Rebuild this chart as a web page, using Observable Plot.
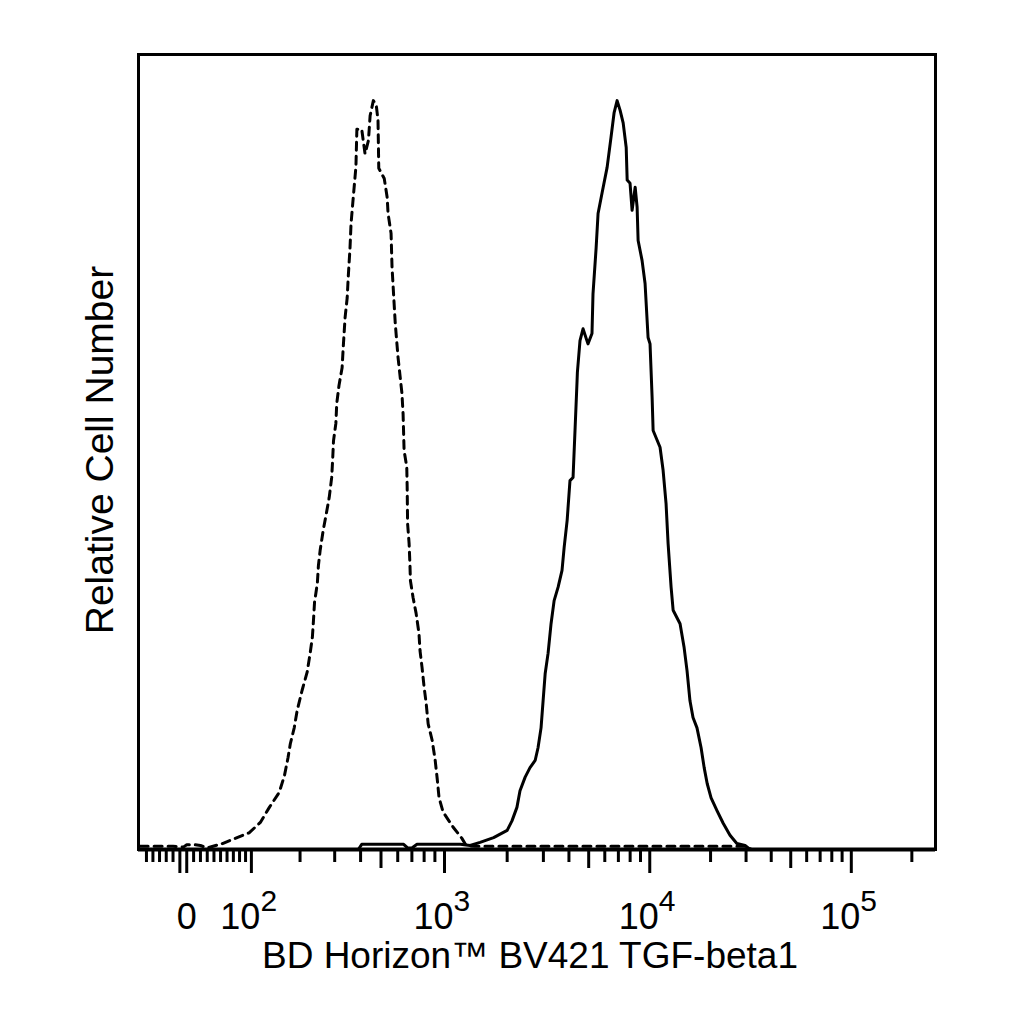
<!DOCTYPE html>
<html><head><meta charset="utf-8">
<script src="https://cdn.jsdelivr.net/npm/d3@7"></script>
<script src="https://cdn.jsdelivr.net/npm/@observablehq/plot@0.6"></script>
<style>body{margin:0;background:#fff}</style>
</head><body><div id="chart"></div>
<script>
// Biexponential (logicle) display parameters
const T = 262144, M = 3.965, W = 0.24;

// Isotype control (dashed)
const isoValues = [-70,-45,-20,-5,0,12,20,30,53,76,96,116,133,153,164,172,177,186,193,205,218,226,232,235,238,246,249,254,263,273,282,290,293,296,304,307,315,326,330,337,345,349,356,360,367,374,380,384,405,420,436,444,460,475,484,488,518,535,540,558,564,571,584,602,628,636,643,662,665,668,679,685,689,709,733,756,765,782,800,818,836,874,903,923,942,985,1100,1211,1270,1400,5000,30000,32000,262144];
const isoCounts = [0.4,0.4,0.4,0.3,0.6,0.6,0.5,0.2,0.75,1.5,2.1,3.4,5.3,7.2,9.3,11.6,13.3,15.3,17.5,20.0,22.3,24.7,26.7,28.8,31.1,33.5,35.7,37.6,40.1,42.3,44.3,46.8,48.9,51.4,53.6,56.1,58.4,60.6,63.1,66.9,69.4,72.0,75.7,78.7,81.3,83.8,85.9,90.6,90.6,87.5,89.2,92.3,94.2,93.6,91.7,85.7,84.4,82.0,80.0,77.5,73.2,70.7,66.2,61.9,57.4,54.8,50.2,48.1,45.5,41.0,38.5,36.0,33.8,31.7,29.7,27.2,25.0,22.9,20.4,18.4,15.8,13.7,11.2,8.9,6.5,4.7,2.8,1.4,0.5,0.4,0.4,0.4,0,0];

// BV421 TGF-beta1 (solid)
const tgfValues = [-70,390,405,640,668,700,740,1190,1325,1480,1720,2000,2110,2230,2308,2445,2582,2735,2825,2922,2990,3060,3163,3270,3385,3540,3700,3790,3920,4047,4190,4290,4385,4400,4532,4690,4960,5190,5250,5440,5560,5820,6160,6440,6670,6900,7134,7390,7650,7735,7992,8180,8470,8660,8760,9160,9480,9810,10031,10270,10390,11241,11640,12040,12320,12750,13050,14122,14790,15290,15812,16370,17130,17950,18590,19240,20120,21520,23100,24970,27000,29670,31410,262144];
const tgfCounts = [0,0,0.65,0.65,0.2,0.2,0.65,0.65,0.5,0.9,1.5,2.4,3.6,5.3,7.4,9.1,10.3,11.2,12.8,15.3,18.7,22.1,24.7,28.4,31.3,33.0,35.1,38.0,41.4,46.4,46.8,53.1,59.0,60.0,64.0,65.5,63.6,64.9,69.9,75.7,80.0,82.6,85.8,89.6,92.7,94.2,93.0,91.4,88.3,84.2,83.8,80.4,83.3,80.8,76.6,74.1,71.2,64.4,63.6,56.9,52.7,50.6,47.7,43.5,38.5,33.0,30.1,28.4,25.4,22.5,18.7,16.6,15.3,12.8,10.3,8.3,6.5,4.9,3.3,1.8,0.75,0.5,0,0];

// Axis ticks
const longTicks = [-10, 0, 100, 1000, 10000, 100000];
const midTicks = [500, 5000, 50000];
const minorTicks = [-60,-50,-40,-30,-20,10,20,30,40,50,60,70,80,90,200,300,400,600,700,800,900,2000,3000,4000,6000,7000,8000,9000,20000,30000,40000,60000,70000,80000,90000,200000];
const labelValues = [0, 100, 1000, 10000, 100000];
const labelBases = ["0", "10", "10", "10", "10"];
const labelExps = ["", "2", "3", "4", "5"];

const xTitle = "BD Horizon\u2122 BV421 TGF-beta1";
const yTitle = "Relative Cell Number";

// logicle transform
function solveP(w) {
  let lo = 1, hi = 100;
  for (let i = 0; i < 100; i++) {
    const mid = (lo + hi) / 2;
    const f = 2 * mid * Math.log10(mid) / (mid + 1);
    if (f < w) lo = mid; else hi = mid;
  }
  return (lo + hi) / 2;
}
const P = solveP(W);
const A0 = T * Math.pow(10, -(M - W));
function S(x) {
  if (x >= W) return A0 * (Math.pow(10, x - W) - P * P * Math.pow(10, -(x - W) / P) + P * P - 1);
  return -S(2 * W - x);
}
function lg(v) {
  let lo = -1, hi = M + 1;
  for (let i = 0; i < 70; i++) {
    const mid = (lo + hi) / 2;
    if (S(mid) < v) lo = mid; else hi = mid;
  }
  return (lo + hi) / 2;
}

const iso = isoValues.map((v, i) => ({v, c: isoCounts[i]}));
const tgf = tgfValues.map((v, i) => ({v, c: tgfCounts[i]}));
const labels = labelValues.map((v, i) => ({v, base: labelBases[i], exp: labelExps[i]}));
const font = "Liberation Sans, Arial, Helvetica, sans-serif";

const chart = Plot.plot({
  width: 1024, height: 1024,
  marginLeft: 138, marginRight: 89, marginTop: 54, marginBottom: 175,
  x: {domain: [0, M], axis: null},
  y: {domain: [0, 100], axis: null},
  style: {fontFamily: font, background: "white", color: "black"},
  marks: [
    Plot.axisX({ticks: minorTicks.map(lg), tickSize: 13, tickFormat: () => "", strokeWidth: 3, label: null}),
    Plot.axisX({ticks: midTicks.map(lg), tickSize: 19, tickFormat: () => "", strokeWidth: 3, label: null}),
    Plot.axisX({ticks: longTicks.map(lg), tickSize: 24, tickFormat: () => "", strokeWidth: 3, label: null}),
    Plot.frame({stroke: "black", strokeWidth: 3}),
    Plot.ruleY([0], {stroke: "black", strokeWidth: 4}),
    Plot.line(iso, {x: d => lg(d.v), y: "c", stroke: "black", strokeWidth: 3, strokeDasharray: "8,6"}),
    Plot.line(tgf, {x: d => lg(d.v), y: "c", stroke: "black", strokeWidth: 3}),
    Plot.text(labels.filter(d => d.exp === ""), {x: d => lg(d.v), text: "base", frameAnchor: "bottom", dy: 79, lineAnchor: "bottom", textAnchor: "middle", fontSize: 36, fill: "black"}),
    Plot.text(labels.filter(d => d.exp !== ""), {x: d => lg(d.v), text: "base", frameAnchor: "bottom", dy: 79, dx: 9, lineAnchor: "bottom", textAnchor: "end", fontSize: 36, fill: "black"}),
    Plot.text(labels.filter(d => d.exp !== ""), {x: d => lg(d.v), text: "exp", frameAnchor: "bottom", dy: 61, dx: 9, lineAnchor: "bottom", textAnchor: "start", fontSize: 30, fill: "black"}),
    Plot.text([xTitle], {frameAnchor: "bottom", dy: 118, dx: -7, lineAnchor: "bottom", textAnchor: "middle", fontSize: 37, fill: "black"}),
    Plot.text([yTitle], {frameAnchor: "left", rotate: -90, dx: -26, dy: -2, lineAnchor: "bottom", textAnchor: "middle", fontSize: 39, fill: "black"})
  ]
});
document.getElementById("chart").appendChild(chart);
</script></body></html>
